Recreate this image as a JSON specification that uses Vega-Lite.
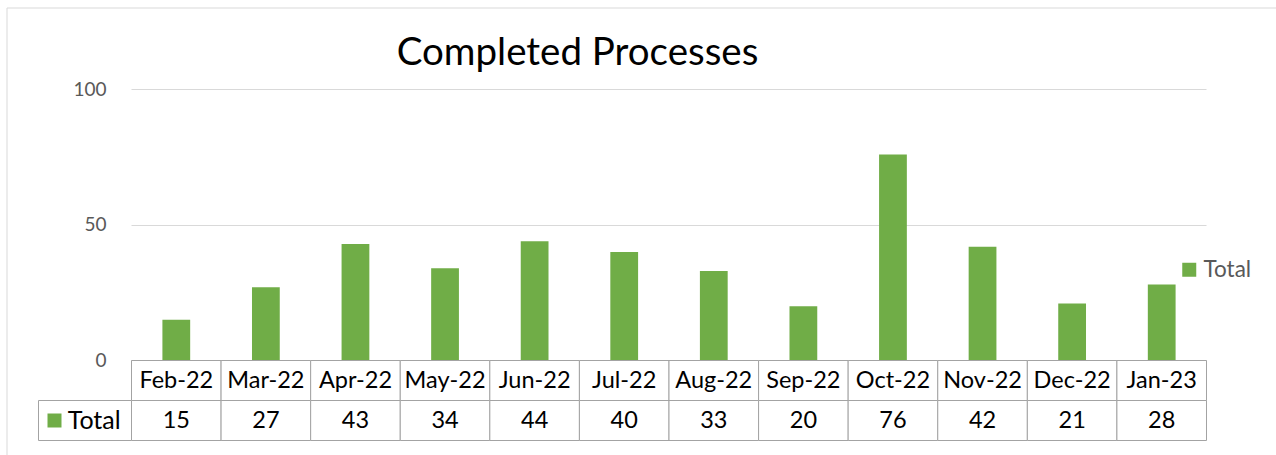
{
  "$schema": "https://vega.github.io/schema/vega-lite/v6.json",
  "width": 1269.5,
  "height": 447.5,
  "autosize": {"type": "none"},
  "padding": {"left": 6.5, "top": 7.5, "right": 0, "bottom": 0},
  "background": "white",
  "config": {"view": {"stroke": "#d9d9d9", "strokeWidth": 1}, "font": "Lato"},
  "title": {"text": "Completed Processes", "font": "Lato", "fontSize": 38.5, "fontWeight": "normal", "color": "#000000", "anchor": "middle", "frame": "group", "baseline": "alphabetic", "offset": 0, "dx": -63.75, "dy": 96},
  "datasets": {
    "months": [
      {"month": "Feb-22", "value": 15},
      {"month": "Mar-22", "value": 27},
      {"month": "Apr-22", "value": 43},
      {"month": "May-22", "value": 34},
      {"month": "Jun-22", "value": 44},
      {"month": "Jul-22", "value": 40},
      {"month": "Aug-22", "value": 33},
      {"month": "Sep-22", "value": 20},
      {"month": "Oct-22", "value": 76},
      {"month": "Nov-22", "value": 42},
      {"month": "Dec-22", "value": 21},
      {"month": "Jan-23", "value": 28}
    ],
    "rowlabel": [{"label": "Total"}]
  },
  "layer": [
    {
      "data": {"name": "months"},
      "mark": {"type": "bar"},
      "encoding": {
        "x": {"field": "month", "type": "nominal", "scale": {"type": "band", "domain": ["Feb-22","Mar-22","Apr-22","May-22","Jun-22","Jul-22","Aug-22","Sep-22","Oct-22","Nov-22","Dec-22","Jan-23"], "range": [125, 1200], "paddingInner": 0.69, "paddingOuter": 0.345}, "axis": null},
        "y": {"field": "value", "type": "quantitative", "scale": {"domain": [0, 100], "range": [353, 82], "nice": false, "zero": true},
              "axis": {"values": [0, 50, 100], "grid": true, "gridColor": "#d9d9d9", "gridWidth": 1, "domain": false, "ticks": false, "labelFont": "Lato", "labelFontSize": 19, "labelColor": "#595959", "labelPadding": 25, "offset": -125, "translate": 0, "title": null}},
        "color": {"datum": "Total", "type": "nominal", "scale": {"range": ["#70ad47"]},
                  "legend": {"orient": "none", "legendX": 1171.5, "legendY": 251, "title": null, "symbolType": "square", "symbolSize": 196, "symbolStrokeWidth": 0, "labelFont": "Lato", "labelFontSize": 22.5, "labelColor": "#595959", "labelOffset": 3, "padding": 0}}
      }
    },
    {
      "data": {"name": "months"},
      "mark": {"type": "rect", "fill": "white", "stroke": "#a3a3a3", "strokeWidth": 1},
      "encoding": {
        "x": {"field": "month", "type": "nominal", "scale": {"type": "band", "domain": ["Feb-22","Mar-22","Apr-22","May-22","Jun-22","Jul-22","Aug-22","Sep-22","Oct-22","Nov-22","Dec-22","Jan-23"], "range": [125, 1200], "padding": 0}, "axis": null},
        "y": {"datum": "head", "type": "nominal", "scale": {"type": "band", "domain": ["head", "val"], "range": [353, 433], "padding": 0}, "axis": null}
      }
    },
    {
      "data": {"name": "months"},
      "mark": {"type": "rect", "fill": "white", "stroke": "#a3a3a3", "strokeWidth": 1},
      "encoding": {
        "x": {"field": "month", "type": "nominal", "scale": {"type": "band", "domain": ["Feb-22","Mar-22","Apr-22","May-22","Jun-22","Jul-22","Aug-22","Sep-22","Oct-22","Nov-22","Dec-22","Jan-23"], "range": [125, 1200], "padding": 0}, "axis": null},
        "y": {"datum": "val", "type": "nominal", "scale": {"type": "band", "domain": ["head", "val"], "range": [353, 433], "padding": 0}, "axis": null}
      }
    },
    {
      "data": {"name": "rowlabel"},
      "mark": {"type": "rect", "fill": "white", "stroke": "#a3a3a3", "strokeWidth": 1},
      "encoding": {
        "x": {"field": "label", "type": "nominal", "scale": {"type": "band", "domain": ["Total"], "range": [32, 125], "padding": 0}, "axis": null},
        "y": {"datum": "val", "type": "nominal", "scale": {"type": "band", "domain": ["head", "val"], "range": [353, 433], "padding": 0}, "axis": null}
      }
    },
    {
      "data": {"name": "months"},
      "mark": {"type": "text", "font": "Lato", "fontSize": 23.5, "color": "#000000", "baseline": "middle", "align": "center"},
      "encoding": {
        "x": {"field": "month", "type": "nominal", "scale": {"type": "band", "domain": ["Feb-22","Mar-22","Apr-22","May-22","Jun-22","Jul-22","Aug-22","Sep-22","Oct-22","Nov-22","Dec-22","Jan-23"], "range": [125, 1200], "padding": 0}, "axis": null},
        "y": {"datum": "head", "type": "nominal", "scale": {"type": "band", "domain": ["head", "val"], "range": [353, 433], "padding": 0}, "axis": null},
        "text": {"field": "month", "type": "nominal"}
      }
    },
    {
      "data": {"name": "months"},
      "mark": {"type": "text", "font": "Lato", "fontSize": 23.5, "color": "#000000", "baseline": "middle", "align": "center"},
      "encoding": {
        "x": {"field": "month", "type": "nominal", "scale": {"type": "band", "domain": ["Feb-22","Mar-22","Apr-22","May-22","Jun-22","Jul-22","Aug-22","Sep-22","Oct-22","Nov-22","Dec-22","Jan-23"], "range": [125, 1200], "padding": 0}, "axis": null},
        "y": {"datum": "val", "type": "nominal", "scale": {"type": "band", "domain": ["head", "val"], "range": [353, 433], "padding": 0}, "axis": null},
        "text": {"field": "value", "type": "quantitative"}
      }
    },
    {
      "data": {"name": "rowlabel"},
      "mark": {"type": "point", "shape": "square", "filled": true, "size": 196, "color": "#70ad47", "opacity": 1},
      "encoding": {
        "x": {"field": "label", "type": "nominal", "bandPosition": 0.172, "scale": {"type": "band", "domain": ["Total"], "range": [32, 125], "padding": 0}, "axis": null},
        "y": {"datum": "val", "type": "nominal", "scale": {"type": "band", "domain": ["head", "val"], "range": [353, 433], "padding": 0}, "axis": null}
      }
    },
    {
      "data": {"name": "rowlabel"},
      "mark": {"type": "text", "font": "Lato", "fontSize": 25, "color": "#000000", "baseline": "middle", "align": "left"},
      "encoding": {
        "x": {"field": "label", "type": "nominal", "bandPosition": 0.314, "scale": {"type": "band", "domain": ["Total"], "range": [32, 125], "padding": 0}, "axis": null},
        "y": {"datum": "val", "type": "nominal", "scale": {"type": "band", "domain": ["head", "val"], "range": [353, 433], "padding": 0}, "axis": null},
        "text": {"field": "label", "type": "nominal"}
      }
    }
  ],
  "resolve": {"scale": {"x": "independent", "y": "independent", "color": "independent"}}
}
